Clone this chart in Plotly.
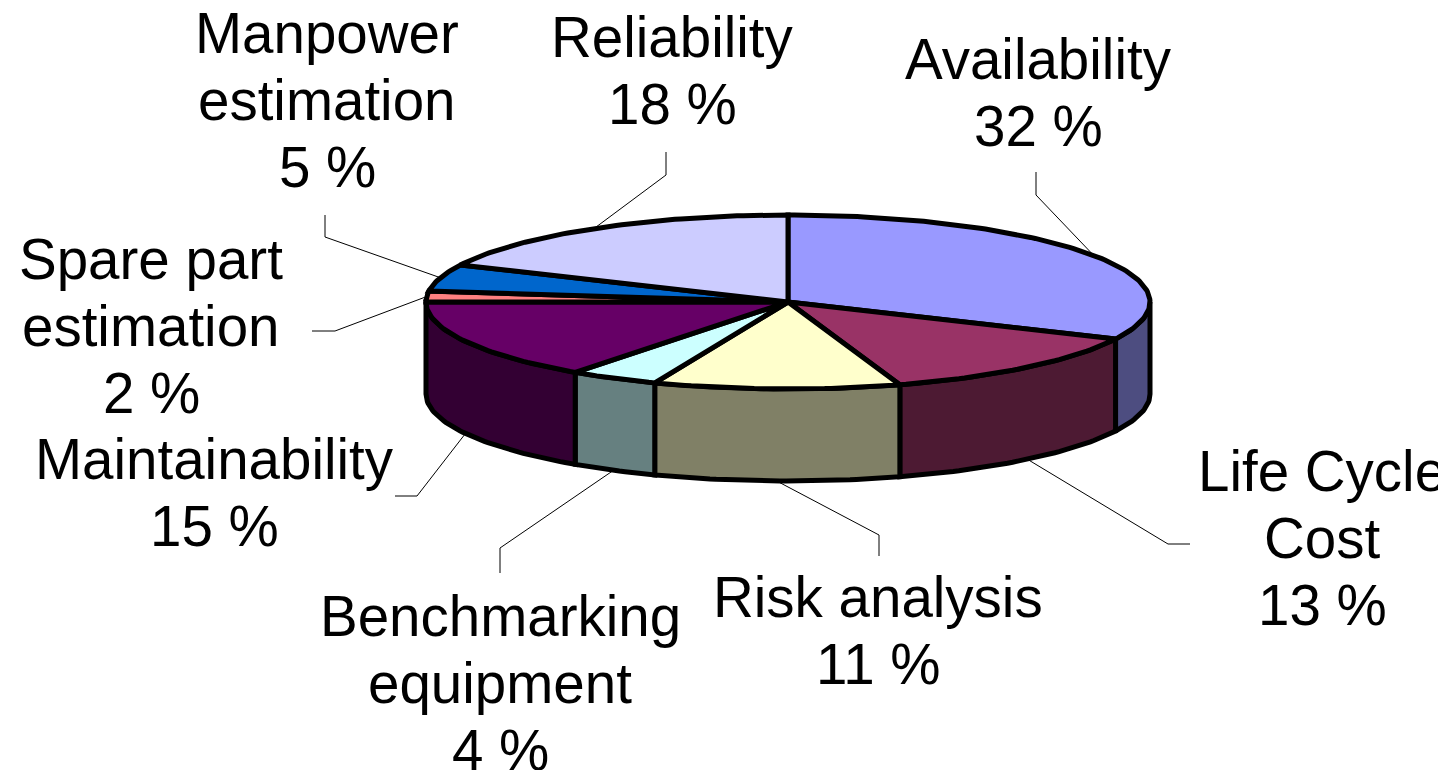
import math
import plotly.graph_objects as go

categories = ["Availability", "Life Cycle Cost", "Risk analysis", "Benchmarking equipment",
              "Maintainability", "Spare part estimation", "Manpower estimation", "Reliability"]
values = [32, 13, 11, 4, 15, 2, 5, 18]
top_colors = ["#9999FF", "#993366", "#FFFFCC", "#CCFFFF", "#660066", "#FF8080", "#0066CC", "#CCCCFF"]
side_colors = ["#4D4D80", "#4D1A33", "#808066", "#668080", "#330033", "#804040", "#003366", "#666680"]

label_lines = [["Availability", "32 %"], ["Life Cycle", "Cost", "13 %"], ["Risk analysis", "11 %"],
               ["Benchmarking", "equipment", "4 %"], ["Maintainability", "15 %"],
               ["Spare part", "estimation", "2 %"], ["Manpower", "estimation", "5 %"],
               ["Reliability", "18 %"]]
label_x = [1038, 1322, 878, 500, 214, 151, 327, 672]
label_y0 = [59, 471, 597, 616, 459, 259, 33, 37]
line_gap = 67

# Leader elbows and ends
leader_elbow = [(1036, 195), (1168, 544), (879, 535), (500, 548), (417, 496), (335, 331), (325, 237), (666, 175)]
leader_end = [(1036, 172), (1190, 544), (879, 556), (500, 573), (395, 496), (312, 331), (325, 215), (666, 152)]

CX, CY, RX, RY, DEPTH = 788, 302, 362, 87, 92
WIDTH, HEIGHT = 1446, 770
PAGE_MARGIN = 8  # the browser's default body margin


def rim(deg, drop=0):
    a = math.radians(deg)
    return CX + RX * math.sin(a), CY - RY * math.cos(a) + drop


def arc(a0, a1, drop=0, step=1.0):
    n = max(2, int(abs(a1 - a0) / step) + 1)
    return [rim(a0 + (a1 - a0) * i / (n - 1), drop) for i in range(n)]


total = sum(values)
edges = [0]
for v in values:
    edges.append(edges[-1] + v / total * 360)

fig = go.Figure()


def poly(points, fill):
    xs = [p[0] for p in points] + [points[0][0]]
    ys = [p[1] for p in points] + [points[0][1]]
    fig.add_trace(go.Scatter(x=xs, y=ys, mode="lines", fill="toself", fillcolor=fill,
                             line=dict(color="black", width=5), hoverinfo="skip", showlegend=False))


# side walls (visible only on the front half)
for i, name in enumerate(categories):
    a0, a1 = max(edges[i], 90), min(edges[i + 1], 270)
    if a1 > a0:
        poly(arc(a0, a1) + arc(a1, a0, DEPTH), side_colors[i])

# top faces
for i, name in enumerate(categories):
    poly([(CX, CY)] + arc(edges[i], edges[i + 1]), top_colors[i])

# leader lines start from each slice's mid-angle on the rim
for i, name in enumerate(categories):
    mid = (edges[i] + edges[i + 1]) / 2
    start = rim(mid, DEPTH if 90 < mid < 270 else 0)
    pts = [start, leader_elbow[i], leader_end[i]]
    fig.add_trace(go.Scatter(x=[p[0] for p in pts], y=[p[1] for p in pts], mode="lines",
                             line=dict(color="black", width=1), hoverinfo="skip", showlegend=False))

annotations = []
for i, lines in enumerate(label_lines):
    for j, text in enumerate(lines):
        annotations.append(dict(x=label_x[i], y=label_y0[i] + j * line_gap, text=text, showarrow=False,
                                xanchor="center", yanchor="middle", xref="x", yref="y",
                                font=dict(family="Liberation Sans", size=56.5, color="black")))

fig.update_layout(
    width=WIDTH - PAGE_MARGIN, height=HEIGHT - PAGE_MARGIN, margin=dict(l=0, r=0, t=0, b=0),
    paper_bgcolor="white", plot_bgcolor="white", showlegend=False, annotations=annotations,
    xaxis=dict(range=[PAGE_MARGIN, WIDTH], visible=False, fixedrange=True),
    yaxis=dict(range=[HEIGHT, PAGE_MARGIN], visible=False, fixedrange=True),
)
fig.write_html("out.html", config=dict(displayModeBar=False))
